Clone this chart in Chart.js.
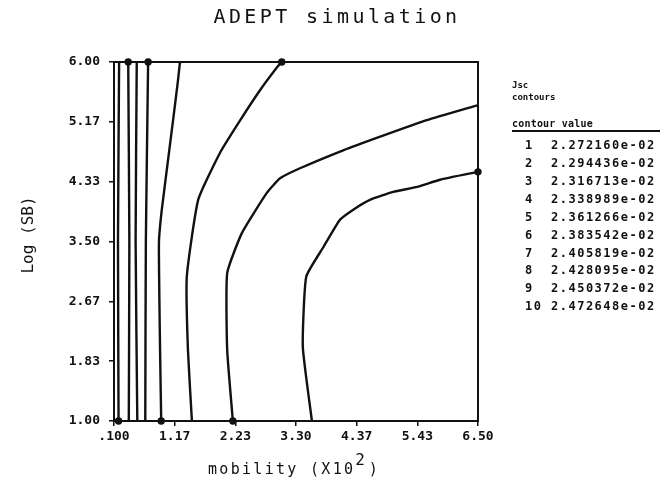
<!DOCTYPE html>
<html>
<head>
<meta charset="utf-8">
<title>ADEPT simulation</title>
<script src="https://cdn.jsdelivr.net/npm/chart.js@4.4.1/dist/chart.umd.min.js"></script>
<style>
  html, body { margin: 0; padding: 0; background: #fff; }
  canvas { display: block; }
</style>
</head>
<body>
<canvas id="adept" width="672" height="485"></canvas>
<script>
// axis ticks
const xTicks = [0.1, 1.1667, 2.2333, 3.3, 4.3667, 5.4333, 6.5];
const xTickLabels = [".100", "1.17", "2.23", "3.30", "4.37", "5.43", "6.50"];
const yTicks = [1, 1.8333, 2.6667, 3.5, 4.3333, 5.1667, 6];
const yTickLabels = ["1.00", "1.83", "2.67", "3.50", "4.33", "5.17", "6.00"];

// contour table on the right
const contourNumbers = [1, 2, 3, 4, 5, 6, 7, 8, 9, 10];
const contourValues = [
  2.272160e-02, 2.294436e-02, 2.316713e-02, 2.338989e-02, 2.361266e-02,
  2.383542e-02, 2.405819e-02, 2.428095e-02, 2.450372e-02, 2.472648e-02,
];

// contour lines, [mobility, log(SB)]
const contourA = [[0.19, 6.0], [0.17, 3.5], [0.18, 1.0]];
const contourB = [[0.35, 6.0], [0.37, 3.5], [0.36, 1.0]];
const contourC = [[0.50, 6.0], [0.48, 3.5], [0.51, 1.0]];
const contourD = [[0.70, 6.0], [0.66, 3.5], [0.65, 1.0]];
const contourE = [[1.26, 6.0], [1.22, 5.71], [1.08, 4.82], [0.94, 3.94], [0.89, 3.48], [0.91, 1.99], [0.93, 1.0]];
const contourP = [[1.47, 1.0], [1.40, 1.99], [1.38, 3.01], [1.58, 4.08], [1.96, 4.73], [2.32, 5.19], [2.67, 5.61], [2.97, 5.93], [3.05, 6.0]];
const contourQ = [[2.19, 1.0], [2.09, 1.99], [2.09, 3.06], [2.35, 3.62], [2.79, 4.18], [3.02, 4.38], [3.37, 4.52], [4.13, 4.77], [4.78, 4.96], [5.60, 5.19], [6.5, 5.40]];
const contourR = [[3.58, 1.0], [3.42, 2.03], [3.48, 3.01], [3.78, 3.42], [4.07, 3.80], [4.30, 3.94], [4.60, 4.08], [5.01, 4.19], [5.43, 4.26], [5.83, 4.36], [6.5, 4.47]];

const INK = "#111";
const MONO = '"DejaVu Sans Mono", "Liberation Mono", monospace';

// line + which end carries the little label dot
const lines = [
  { pts: contourA, dot: "last" },
  { pts: contourB, dot: "first" },
  { pts: contourC, dot: null },
  { pts: contourD, dot: "first" },
  { pts: contourE, dot: "last" },
  { pts: contourP, dot: "last" },
  { pts: contourQ, dot: "first" },
  { pts: contourR, dot: "last" },
];

const datasets = lines.map((l) => ({
  data: l.pts.map((p) => ({ x: p[0], y: p[1] })),
  showLine: true,
  borderColor: INK,
  backgroundColor: INK,
  borderWidth: 2.4,
  tension: 0.15,
  clip: 6,
  pointRadius: l.pts.map((p, i) => {
    if (l.dot === "first" && i === 0) return 2.5;
    if (l.dot === "last" && i === l.pts.length - 1) return 2.5;
    return 0;
  }),
  pointHoverRadius: 0,
}));

function sciLabel(v) {
  // 2.272160e-2 -> 2.272160e-02
  return v.toExponential(6).replace(/e([+-])(\d)$/, "e$10$2");
}

// frame, title, axis titles and the contour table
const annotate = {
  id: "annotate",
  afterDraw(chart) {
    const { ctx, chartArea: a } = chart;
    ctx.save();
    ctx.strokeStyle = INK;
    ctx.lineWidth = 2;
    ctx.strokeRect(a.left, a.top, a.right - a.left, a.bottom - a.top);

    ctx.fillStyle = INK;
    ctx.textBaseline = "middle";

    // title
    ctx.font = "20px " + MONO;
    ctx.letterSpacing = "3.4px";
    ctx.textAlign = "center";
    ctx.fillText("ADEPT simulation", 337, 18);

    // y title
    ctx.save();
    ctx.translate(29, 235);
    ctx.rotate(-Math.PI / 2);
    ctx.font = "16px " + MONO;
    ctx.letterSpacing = "0px";
    ctx.fillText("Log (SB)", 0, 0);
    ctx.restore();

    // x title with superscript
    ctx.font = "15px " + MONO;
    ctx.letterSpacing = "2.3px";
    ctx.textAlign = "left";
    const main = "mobility (X10";
    const wMain = ctx.measureText(main).width;
    const wSup = ctx.measureText("2").width;
    const wEnd = ctx.measureText(")").width;
    let x0 = (a.left + a.right) / 2 - (wMain + wSup + wEnd) / 2 - 3;
    ctx.fillText(main, x0, 470);
    ctx.font = "16px " + MONO;
    ctx.fillText("2", x0 + wMain, 461);
    ctx.font = "15px " + MONO;
    ctx.fillText(")", x0 + wMain + wSup + 2, 470);

    // contour table
    ctx.letterSpacing = "0px";
    ctx.font = "bold 9px " + MONO;
    ctx.fillText("Jsc", 512, 86);
    ctx.fillText("contours", 512, 98);
    ctx.font = "bold 10px " + MONO;
    ctx.letterSpacing = "0.2px";
    ctx.fillText("contour value", 512, 124);
    ctx.beginPath();
    ctx.moveTo(512, 131);
    ctx.lineTo(660, 131);
    ctx.stroke();

    ctx.font = "bold 12px " + MONO;
    ctx.letterSpacing = "1.5px";
    contourNumbers.forEach((n, i) => {
      const y = 146 + i * 17.9;
      ctx.fillText(String(n), 525, y);
      ctx.fillText(sciLabel(contourValues[i]), 551, y);
    });
    ctx.restore();
  },
};

const tickFont = { family: MONO, size: 13, weight: "bold" };

const chart = new Chart(document.getElementById("adept").getContext("2d"), {
  type: "scatter",
  data: { datasets },
  options: {
    responsive: false,
    animation: false,
    events: [],
    layout: { padding: { left: 0, right: 194, top: 62, bottom: 24 } },
    scales: {
      x: {
        type: "linear",
        min: 0.1,
        max: 6.5,
        afterFit: (s) => { s.height = 40; },
        afterBuildTicks: (s) => { s.ticks = xTicks.map((v) => ({ value: v })); },
        ticks: {
          callback: (v, i) => xTickLabels[i],
          color: INK,
          font: tickFont,
          padding: 3,
          maxRotation: 0,
          autoSkip: false,
        },
        grid: { drawOnChartArea: false, tickLength: 5, color: INK, lineWidth: 1.5 },
        border: { color: INK, width: 2 },
      },
      y: {
        type: "linear",
        min: 1,
        max: 6,
        afterFit: (s) => { s.width = 114; },
        afterBuildTicks: (s) => { s.ticks = yTicks.map((v) => ({ value: v })); },
        ticks: {
          callback: (v, i) => yTickLabels[i],
          color: INK,
          font: tickFont,
          padding: 9,
          autoSkip: false,
        },
        grid: { drawOnChartArea: false, tickLength: 5, color: INK, lineWidth: 1.5 },
        border: { color: INK, width: 2 },
      },
    },
    plugins: {
      legend: { display: false },
      tooltip: { enabled: false },
    },
  },
  plugins: [annotate],
});
</script>
</body>
</html>
